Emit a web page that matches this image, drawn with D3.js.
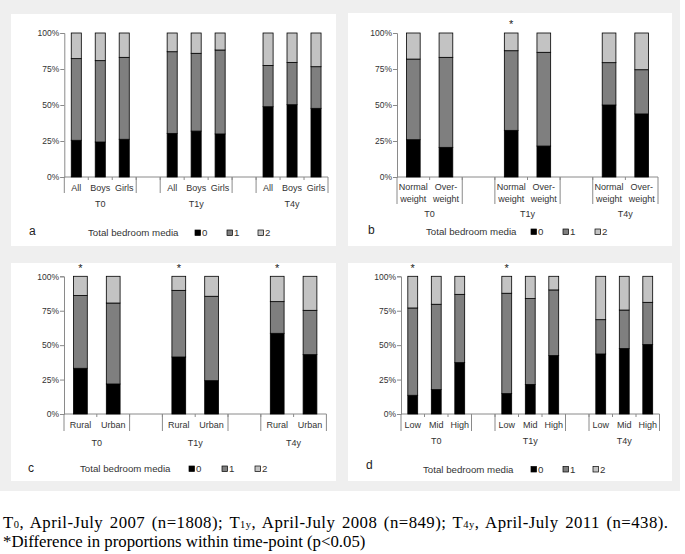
<!DOCTYPE html>
<html><head><meta charset="utf-8">
<script src="https://cdn.jsdelivr.net/npm/d3@7"></script>
<style>html,body{margin:0;padding:0;background:#fff}svg{display:block}</style>
</head><body>
<svg id="c" width="685" height="554"></svg>
<script>
const groups = ["T0", "T1y", "T4y"];
const seriesKeys = ["0", "1", "2"];
const yTicks = [0, 25, 50, 75, 100];

// panel a: sex
const catsA = ["All", "Boys", "Girls"];
const a0 = [25.5, 24.3, 26.2, 30.3, 31.9, 29.9, 48.8, 50.2, 47.7];
const a1 = [56.7, 56.5, 56.9, 56.7, 54.0, 58.3, 28.7, 29.4, 28.9];
const a2 = [17.8, 19.2, 16.9, 13.0, 14.1, 11.8, 22.5, 20.4, 23.4];
const starsA = [];

// panel b: weight status
const catsB = ["Normal weight", "Over-weight"];
const b0 = [25.9, 20.6, 32.4, 21.5, 50.0, 43.8];
const b1 = [56.0, 62.5, 55.3, 65.1, 29.4, 30.7];
const b2 = [18.1, 16.9, 12.3, 13.4, 20.6, 25.5];
const starsB = ["T1y|Normal weight"];

// panel c: residence
const catsC = ["Rural", "Urban"];
const c0 = [33.2, 21.8, 41.4, 24.2, 58.6, 43.1];
const c1 = [52.8, 58.8, 48.4, 61.3, 23.0, 32.2];
const c2 = [14.0, 19.4, 10.2, 14.5, 18.4, 24.7];
const starsC = ["T0|Rural", "T1y|Rural", "T4y|Rural"];

// panel d: SES
const catsD = ["Low", "Mid", "High"];
const d0 = [13.6, 17.7, 37.3, 14.8, 21.5, 42.4, 43.6, 47.5, 50.4];
const d1 = [63.4, 62.0, 49.6, 72.9, 62.3, 47.7, 24.9, 28.0, 30.7];
const d2 = [23.0, 20.3, 13.1, 12.3, 16.2, 9.9, 31.5, 24.5, 18.9];
const starsD = ["T0|Low", "T1y|Low"];

const legendTitle = "Total bedroom media";
const caption1 = [["T", null], ["0", "sub"], [", April-July 2007 (n=1808); T", null], ["1y", "sub"], [", April-July 2008 (n=849); T", null], ["4y", "sub"], [", April-July 2011 (n=438).", null]];
const caption2 = "*Difference in proportions within time-point (p<0.05)";

const colors = {"0": "#000000", "1": "#7f7f7f", "2": "#c3c3c3"};
const FONT = "'Liberation Sans', Arial, sans-serif";
const TXT = "#333";

const svg = d3.select("#c");
svg.append("rect").attr("x", 0).attr("y", 0).attr("width", 680).attr("height", 491).attr("fill", "#efefef");

function splitLabel(s) {
  const m = s.match(/^(.*?-)(.+)$/);
  if (m) return [m[1], m[2]];
  return s.split(" ");
}

function drawPanel(cfg) {
  const {letter, cats, s0, s1, s2, stars, rect, xr, yr, catY, sepEnd, groupY, legY, letterPos, legX, starY} = cfg;
  svg.append("rect").attr("x", rect[0]).attr("y", rect[1]).attr("width", rect[2]).attr("height", rect[3]).attr("fill", "#fff");
  const g = svg.append("g").attr("font-family", FONT).attr("fill", TXT);

  const rows = [];
  const slots = [];
  groups.forEach((grp, gi) => {
    cats.forEach((c, ci) => {
      const i = gi * cats.length + ci;
      rows.push({key: grp + "|" + c, grp, cat: c, "0": s0[i], "1": s1[i], "2": s2[i]});
      slots.push(grp + "|" + c);
    });
    if (gi < groups.length - 1) slots.push("gap" + gi);
  });
  const x = d3.scaleBand().domain(slots).range(xr).padding(0);
  const y = d3.scaleLinear().domain([0, 100]).range(yr);
  const bw = x.bandwidth();
  const barW = bw * 0.42;

  const yAxis = d3.axisLeft(y).tickValues(yTicks).tickSize(4).tickFormat(d => d + "%");
  const ya = g.append("g").attr("transform", `translate(${xr[0]},0)`).call(yAxis);
  ya.select(".domain").attr("stroke", "#8a8a8a").attr("stroke-width", 1);
  ya.selectAll(".tick line").attr("stroke", "#8a8a8a");
  ya.selectAll(".tick text").attr("font-size", 8.5).attr("font-family", FONT).attr("fill", TXT).attr("x", -5);

  g.append("line").attr("x1", xr[0]).attr("x2", xr[1]).attr("y1", y(0)).attr("y2", y(0)).attr("stroke", "#8a8a8a");
  slots.forEach((s, i) => {
    if (i === 0) return;
    g.append("line").attr("x1", x(s)).attr("x2", x(s)).attr("y1", y(0)).attr("y2", y(0) + 3).attr("stroke", "#8a8a8a");
  });
  const sepX = [xr[0]];
  groups.forEach((grp, gi) => {
    const first = x(grp + "|" + cats[0]);
    const last = x(grp + "|" + cats[cats.length - 1]) + bw;
    if (gi > 0) sepX.push(first);
    sepX.push(last);
  });
  sepX.forEach(sx => {
    g.append("line").attr("x1", sx).attr("x2", sx).attr("y1", y(0)).attr("y2", sepEnd).attr("stroke", "#8a8a8a");
  });

  const stack = d3.stack().keys(seriesKeys)(rows);
  stack.forEach(layer => {
    g.append("g").selectAll("rect").data(layer).join("rect")
      .attr("x", d => x(d.data.key) + (bw - barW) / 2)
      .attr("width", barW)
      .attr("y", d => y(d[1]))
      .attr("height", d => y(d[0]) - y(d[1]))
      .attr("fill", colors[layer.key])
      .attr("stroke", "#000").attr("stroke-width", 0.8);
  });

  rows.forEach(r => {
    const lines = splitLabel(r.cat);
    const lh = 11.6;
    lines.forEach((ln, li) => {
      g.append("text").attr("x", x(r.key) + bw / 2).attr("y", catY + li * lh).attr("dy", "0.35em")
        .attr("text-anchor", "middle").attr("font-size", 9).text(ln);
    });
  });
  groups.forEach(grp => {
    const cx = (x(grp + "|" + cats[0]) + x(grp + "|" + cats[cats.length - 1]) + bw) / 2;
    g.append("text").attr("x", cx).attr("y", groupY).attr("dy", "0.35em").attr("text-anchor", "middle").attr("font-size", 9).text(grp);
  });
  stars.forEach(k => {
    g.append("text").attr("x", x(k) + bw / 2).attr("y", starY).attr("dy", "0.35em").attr("text-anchor", "middle")
      .attr("font-size", 11).attr("fill", "#222").text("*");
  });

  g.append("text").attr("x", letterPos[0]).attr("y", letterPos[1]).attr("dy", "0.35em").attr("font-size", 12).attr("fill", "#222").text(letter);
  g.append("text").attr("x", legX[0]).attr("y", legY).attr("dy", "0.35em").attr("font-size", 9.7).text(legendTitle);
  seriesKeys.forEach((k, i) => {
    g.append("rect").attr("x", legX[i + 1]).attr("y", legY - 3).attr("width", 5.5).attr("height", 5.5)
      .attr("fill", colors[k]).attr("stroke", "#000").attr("stroke-width", 0.7);
    g.append("text").attr("x", legX[i + 1] + 7).attr("y", legY).attr("dy", "0.35em").attr("font-size", 9.7).text(k);
  });
}

drawPanel({letter: "a", cats: catsA, s0: a0, s1: a1, s2: a2, stars: starsA,
  rect: [11, 14, 325, 232], xr: [64.3, 328], yr: [177, 33], catY: 187.5, sepEnd: 193, groupY: 203.5,
  legY: 233, letterPos: [29, 231], legX: [88, 195, 227, 258], starY: 24});
drawPanel({letter: "b", cats: catsB, s0: b0, s1: b1, s2: b2, stars: starsB,
  rect: [348, 13, 324, 233], xr: [397, 658], yr: [177, 33], catY: 187, sepEnd: 204, groupY: 214,
  legY: 232, letterPos: [368, 230], legX: [426, 531, 563, 595], starY: 24});
drawPanel({letter: "c", cats: catsC, s0: c0, s1: c1, s2: c2, stars: starsC,
  rect: [11, 263, 325, 218], xr: [64, 326.4], yr: [414, 276.3], catY: 425, sepEnd: 431, groupY: 442.5,
  legY: 469, letterPos: [28, 468], legX: [80, 189, 222, 255], starY: 268});
drawPanel({letter: "d", cats: catsD, s0: d0, s1: d1, s2: d2, stars: starsD,
  rect: [348, 263, 324, 218], xr: [401, 659.5], yr: [414, 276.3], catY: 424.7, sepEnd: 431, groupY: 440.7,
  legY: 469.5, letterPos: [366, 465], legX: [423, 531, 563, 593], starY: 268});

// caption
const cap = svg.append("g").attr("font-family", "'Liberation Serif', 'Times New Roman', serif").attr("font-size", 16.8).attr("fill", "#000");
const t1 = cap.append("text").attr("x", 3).attr("y", 528);
caption1.forEach(([s, m]) => {
  const ts = t1.append("tspan").text(s);
  if (m) ts.attr("font-size", 10.5);
});
// spread line 1 to the reference width: a little extra word space, the rest as letter spacing
const target = 665;
const nSpaces = caption1.map(p => p[0]).join("").split(" ").length - 1;
t1.attr("word-spacing", 2);
const len = t1.node().getComputedTextLength();
if (len < target) t1.attr("textLength", target).attr("lengthAdjust", "spacing");
cap.append("text").attr("x", 3).attr("y", 547).text(caption2);
</script>
</body></html>
